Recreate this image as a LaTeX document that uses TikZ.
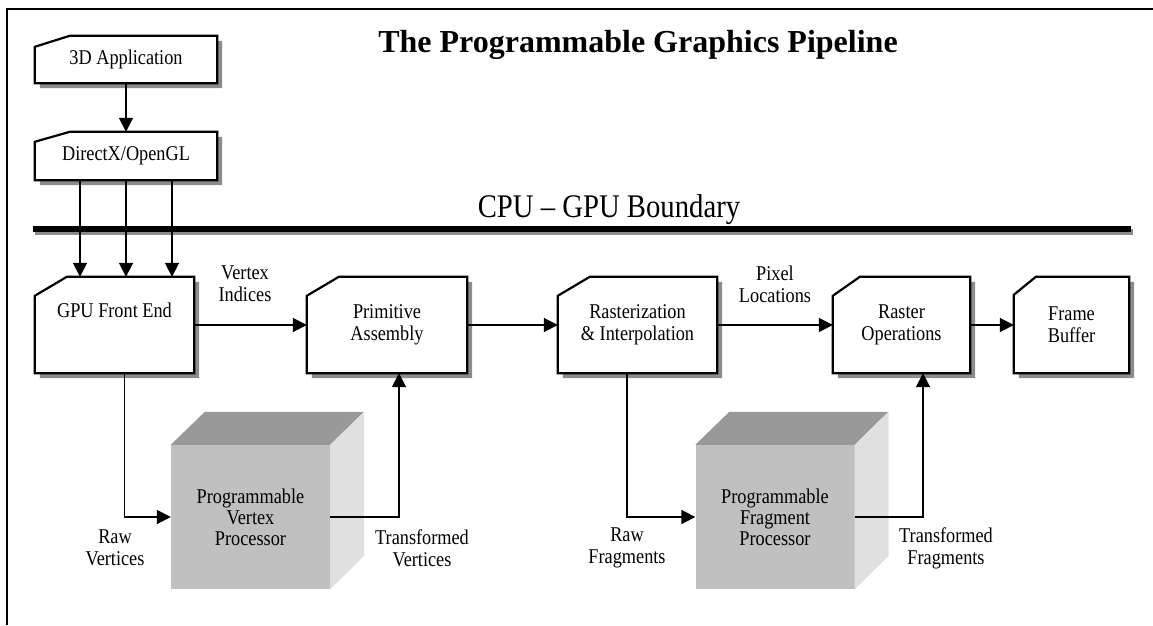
\documentclass[tikz,border=0pt]{standalone}
\usepackage{fontspec}
\setmainfont{Liberation Serif}
\newfontfamily\tallfont{Liberation Serif}[FakeStretch=0.87, Ligatures=TeX]
\usetikzlibrary{arrows.meta, backgrounds}

\definecolor{boxshadow}{HTML}{8C8C8C}
\definecolor{cubefront}{HTML}{C0C0C0}
\definecolor{cubetop}{HTML}{999999}
\definecolor{cubeside}{HTML}{E0E0E0}

\tikzset{
  flow/.style={line width=1.8pt, -{Triangle[length=14pt,width=14pt]}},
  stage/.style={align=center, inner sep=0pt, font=\tallfont\fontsize{21}{22}\selectfont},
  tag/.style={align=center, inner sep=0pt, font=\tallfont\fontsize{21}{22}\selectfont},
  cube/.style={fill=cubefront, align=center, inner sep=0pt, minimum width=159pt, minimum height=144pt, font=\tallfont\fontsize{21}{21}\selectfont}
}

% outline of a box with a cut top left corner: node, cut x, cut y, offset x, offset y
\newcommand{\stagepath}[5]{([shift={(#4,#5)}]#1.south west) -- ([shift={(#4,{#5-#3})}]#1.north west) -- ([shift={({#4+#2},#5)}]#1.north west) -- ([shift={(#4,#5)}]#1.north east) -- ([shift={(#4,#5)}]#1.south east) -- cycle}
\newcommand{\stageframe}[3]{%
  \fill[boxshadow] \stagepath{#1}{#2}{#3}{5}{-5};
  \draw[line width=2.2pt, fill=white] \stagepath{#1}{#2}{#3}{0}{0};
}

\begin{document}
\begin{tikzpicture}[x=1pt, y=1pt]
  \useasboundingbox (0,0) rectangle (1153,625);
  \draw[line width=2pt] (7,0) -- (7,616) -- (1153,616); % frame

  \node[anchor=base, font=\fontsize{32}{38}\selectfont\bfseries] (title) at (638,572) {The Programmable Graphics Pipeline};

  % CPU side
  \node[stage, minimum width=182pt, minimum height=47pt] (app) at (126,565.5) {3D Application};
  \node[stage, minimum width=182pt, minimum height=48pt] (api) at (126,469) {DirectX/OpenGL};

  % boundary
  \node[anchor=base, font=\tallfont\fontsize{33}{38}\selectfont] (bound) at (609,408) {CPU – GPU Boundary};
  \draw[line width=6pt, boxshadow] (35,393) -- (1133,393);
  \draw[line width=6pt] (33,396) -- (1131,396);

  % GPU side
  \node[stage, minimum width=159pt, minimum height=96pt] (front) at (114.5,300) {GPU Front End\\\strut};
  \node[stage, minimum width=160pt, minimum height=96pt] (prim) at (387,300) {Primitive\\Assembly};
  \node[stage, minimum width=159pt, minimum height=96pt] (rast) at (637.5,300) {Rasterization\\\& Interpolation};
  \node[stage, minimum width=137pt, minimum height=96pt] (rop) at (901.5,300) {Raster\\Operations};
  \node[stage, minimum width=115pt, minimum height=96pt] (fb) at (1071.5,300) {Frame\\Buffer};

  \begin{scope}[on background layer]
    \stageframe{app}{35}{11}
    \stageframe{api}{35}{10}
    \stageframe{front}{32}{19}
    \stageframe{prim}{32}{19}
    \stageframe{rast}{32}{19}
    \stageframe{rop}{27}{19}
    \stageframe{fb}{22}{18}
  \end{scope}

  % programmable processors
  \node[cube] (vproc) at (250.5,108) {Programmable\\Vertex\\Processor};
  \node[cube] (fproc) at (775,108) {Programmable\\Fragment\\Processor};
  \foreach \p in {vproc, fproc} {
    \fill[cubetop] (\p.north west) -- ++(34,33) -- ++(159,0) -- (\p.north east) -- cycle;
    \fill[cubeside] (\p.north east) -- ++(34,33) -- ++(0,-144) -- (\p.south east) -- cycle;
  }

  % arrows
  \draw[flow] (app) -- (api);
  \foreach \d in {-46,0,46}
    \draw[flow] ([xshift=\d]api.south) -- ([xshift=\d]api.south |- front.north);
  \draw[flow] (front.east |- prim.west) -- (prim.west);
  \draw[flow] (prim) -- (rast);
  \draw[flow] (rast) -- (rop);
  \draw[flow] (rop) -- (fb);
  \draw[flow] ([xshift=10]front.south) |- (vproc.west);
  \draw[flow] (vproc.east) -| ([xshift=12]prim.south);
  \draw[flow] ([xshift=-10.5]rast.south) |- (fproc.west);
  \draw[flow] (fproc.east) -| ([xshift=21.5]rop.south);

  % labels
  \node[tag] (vind) at (245,341) {Vertex\\Indices};
  \node[tag] (ploc) at (775,341) {Pixel\\Locations};
  \node[tag] (rawv) at (115,77) {Raw\\Vertices};
  \node[tag] (trv) at (422,77) {Transformed\\Vertices};
  \node[tag] (rawf) at (627,77) {Raw\\Fragments};
  \node[tag] (trf) at (946,77) {Transformed\\Fragments};
\end{tikzpicture}
\end{document}
